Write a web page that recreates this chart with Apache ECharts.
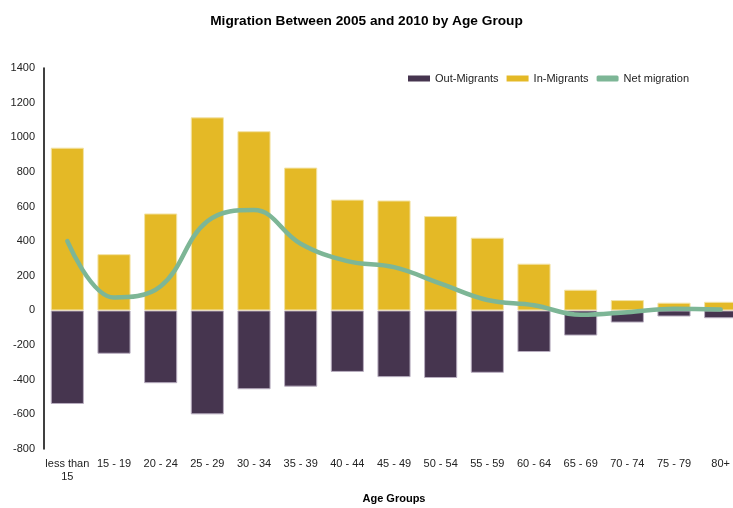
<!DOCTYPE html>
<html>
<head>
<meta charset="utf-8">
<script src="https://cdn.jsdelivr.net/npm/echarts@6/dist/echarts.min.js"></script>
<style>
  html, body { margin: 0; padding: 0; background: #fff; }
  #main { width: 733px; height: 508px; }
</style>
</head>
<body>
<div id="main"></div>
<script>
var ageGroups = ['less than\n15', '15 - 19', '20 - 24', '25 - 29', '30 - 34', '35 - 39', '40 - 44',
  '45 - 49', '50 - 54', '55 - 59', '60 - 64', '65 - 69', '70 - 74', '75 - 79', '80+']
var outMigrants = [-540, -250, -420, -600, -455, -440, -355, -385, -390, -360, -240, -145, -70, -35, -45]
var inMigrants = [940, 325, 560, 1115, 1035, 825, 640, 635, 545, 420, 270, 120, 60, 45, 50]
var netMigration = [400, 75, 140, 515, 580, 385, 285, 250, 155, 60, 30, -25, -10, 10, 5]

var chart = echarts.init(document.getElementById('main'))
var labelFont = 'Liberation Sans, Arial, sans-serif'

var option = {
  animation: false,
  title: {
    text: 'Migration Between 2005 and 2010 by Age Group',
    left: 'center',
    top: 9,
    textStyle: { fontFamily: labelFont, fontSize: 13.7, fontWeight: 'bold', color: '#000' }
  },
  legend: {
    left: 408,
    top: 73,
    padding: 0,
    itemWidth: 22,
    itemHeight: 6,
    itemGap: 8,
    textStyle: { fontFamily: labelFont, fontSize: 11, color: '#222' },
    data: [
      { name: 'Out-Migrants', icon: 'rect', itemStyle: { color: '#46354F', borderWidth: 0 } },
      { name: 'In-Migrants', icon: 'rect', itemStyle: { color: '#E4B926', borderWidth: 0 } },
      { name: 'Net migration', icon: 'roundRect', itemStyle: { color: '#7DB696', borderWidth: 0 } }
    ]
  },
  grid: {
    left: 44,
    top: 68,
    width: 700,
    height: 381,
    outerBoundsMode: 'none'
  },
  xAxis: {
    type: 'category',
    data: ageGroups,
    position: 'bottom',
    axisLine: { show: false, onZero: false },
    axisTick: { show: false },
    axisLabel: {
      interval: 0,
      margin: 8,
      fontFamily: labelFont,
      fontSize: 11,
      lineHeight: 13,
      color: '#222'
    },
    name: 'Age Groups',
    nameLocation: 'middle',
    nameGap: 44,
    nameTextStyle: { fontFamily: labelFont, fontSize: 11, fontWeight: 'bold', color: '#000' }
  },
  yAxis: {
    type: 'value',
    min: -800,
    max: 1400,
    interval: 200,
    axisLine: { show: true, lineStyle: { color: '#000', width: 1.5 } },
    axisTick: { show: false },
    splitLine: { show: false },
    axisLabel: {
      fontFamily: labelFont,
      fontSize: 11,
      color: '#222',
      margin: 9,
      formatter: function (v) { return String(v) }
    }
  },
  series: [
    {
      name: 'Out-Migrants',
      type: 'bar',
      data: outMigrants,
      barCategoryGap: '29%',
      barGap: '-100%',
      itemStyle: { color: '#46354F', borderColor: '#b9aec0', borderWidth: 1 }
    },
    {
      name: 'In-Migrants',
      type: 'bar',
      data: inMigrants,
      barCategoryGap: '29%',
      itemStyle: { color: '#E4B926', borderColor: '#f3e3a6', borderWidth: 1 }
    },
    {
      name: 'Net migration',
      type: 'line',
      data: netMigration,
      smooth: 0.4,
      symbol: 'none',
      lineStyle: { color: '#7DB696', width: 4.5, cap: 'round' },
      itemStyle: { color: '#7DB696' },
      z: 5
    }
  ]
}

chart.setOption(option)
</script>
</body>
</html>
